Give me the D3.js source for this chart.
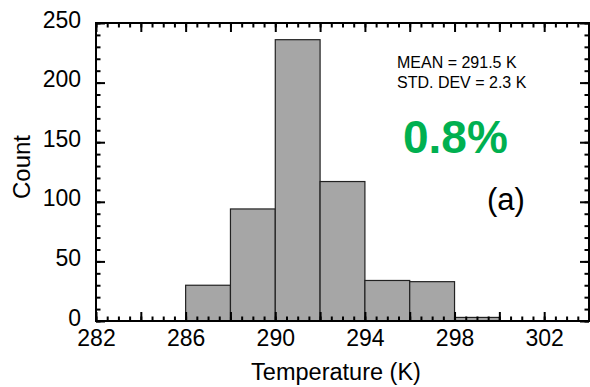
<!DOCTYPE html>
<html>
<head>
<meta charset="utf-8">
<script src="https://cdn.jsdelivr.net/npm/d3@7"></script>
<style>
  body { margin: 0; background: #fff; }
  svg text { font-family: "Liberation Sans", Arial, sans-serif; fill: #000; }
</style>
</head>
<body>
<svg id="chart" width="590" height="387"></svg>
<script>
// histogram bins (K) and counts
var binStarts = [286, 288, 290, 292, 294, 296, 298];
var binWidth = 2;
var counts = [30, 94, 236, 117, 34, 33, 3];
var xTickLabels = [282, 286, 290, 294, 298, 302];
var yTickLabels = [0, 50, 100, 150, 200, 250];
var statLines = ["MEAN = 291.5 K", "STD. DEV = 2.3 K"];

var svg = d3.select("#chart");
// plot frame (px)
var pLeft = 96, pRight = 589, pTop = 23, pBottom = 321;

var x = d3.scaleLinear().domain([282, 304]).range([pLeft, pRight]);
var y = d3.scaleLinear().domain([0, 250]).range([pBottom, pTop]);

// bars
svg.append("g").selectAll("rect")
    .data(binStarts)
  .enter().append("rect")
    .attr("x", function(d){ return x(d); })
    .attr("width", function(d){ return x(d + binWidth) - x(d); })
    .attr("y", function(d, i){ return y(counts[i]); })
    .attr("height", function(d, i){ return y(0) - y(counts[i]); })
    .attr("fill", "#a6a6a6")
    .attr("stroke", "#222")
    .attr("stroke-width", 1.2);

var minorX = d3.range(282, 304.01, 0.5);
var majorX = d3.range(282, 304.01, 2);
var minorY = d3.range(0, 250.01, 10);
var majorY = d3.range(0, 250.01, 50);

function styleAxis(g){
    g.select(".domain").remove();
    g.selectAll("line").attr("stroke", "#000").attr("stroke-width", 2);
}

// minor ticks, all four sides
svg.append("g").attr("transform", "translate(0," + pBottom + ")")
    .call(d3.axisBottom(x).tickValues(minorX).tickSize(-4.5).tickFormat(""))
    .call(styleAxis);
svg.append("g").attr("transform", "translate(0," + pTop + ")")
    .call(d3.axisTop(x).tickValues(minorX).tickSize(-4.5).tickFormat(""))
    .call(styleAxis);
svg.append("g").attr("transform", "translate(" + pLeft + ",0)")
    .call(d3.axisLeft(y).tickValues(minorY).tickSize(-4.5).tickFormat(""))
    .call(styleAxis);
svg.append("g").attr("transform", "translate(" + pRight + ",0)")
    .call(d3.axisRight(y).tickValues(minorY).tickSize(-4.5).tickFormat(""))
    .call(styleAxis);

// major ticks
var xAx = svg.append("g").attr("transform", "translate(0," + pBottom + ")")
    .call(d3.axisBottom(x).tickValues(majorX).tickSize(-9).tickPadding(9)
        .tickFormat(function(d){ return xTickLabels.indexOf(d) >= 0 ? d : ""; }))
    .call(styleAxis);
xAx.selectAll("text").attr("font-size", 23).attr("fill", "#000")
    .attr("font-family", "Liberation Sans, Arial, sans-serif");

svg.append("g").attr("transform", "translate(0," + pTop + ")")
    .call(d3.axisTop(x).tickValues(majorX).tickSize(-9).tickFormat(""))
    .call(styleAxis);

var yAx = svg.append("g").attr("transform", "translate(" + pLeft + ",0)")
    .call(d3.axisLeft(y).tickValues(yTickLabels).tickSize(-9).tickPadding(15))
    .call(styleAxis);
yAx.selectAll("text").attr("font-size", 23).attr("dy", "0.18em").attr("fill", "#000")
    .attr("font-family", "Liberation Sans, Arial, sans-serif");

svg.append("g").attr("transform", "translate(" + pRight + ",0)")
    .call(d3.axisRight(y).tickValues(majorY).tickSize(-9).tickFormat(""))
    .call(styleAxis);

// frame
svg.append("rect")
    .attr("x", pLeft).attr("y", pTop)
    .attr("width", pRight - pLeft).attr("height", pBottom - pTop)
    .attr("fill", "none").attr("stroke", "#000").attr("stroke-width", 2);

// axis titles
svg.append("text")
    .attr("x", 336).attr("y", 380)
    .attr("text-anchor", "middle")
    .attr("font-size", 23.5)
    .text("Temperature (K)");
svg.append("text")
    .attr("transform", "translate(30,167) rotate(-90)")
    .attr("text-anchor", "middle")
    .attr("font-size", 24)
    .text("Count");

// annotations
svg.selectAll(".stat").data(statLines)
  .enter().append("text")
    .attr("class", "stat")
    .attr("x", 397)
    .attr("y", function(d, i){ return 68 + i * 20; })
    .attr("font-size", 16)
    .text(function(d){ return d; });

svg.append("text")
    .attr("x", 403).attr("y", 153)
    .attr("font-size", 46).attr("font-weight", "bold")
    .style("fill", "#00b050")
    .text("0.8%");

svg.append("text")
    .attr("x", 487).attr("y", 210)
    .attr("font-size", 31)
    .text("(a)");
</script>
</body>
</html>
